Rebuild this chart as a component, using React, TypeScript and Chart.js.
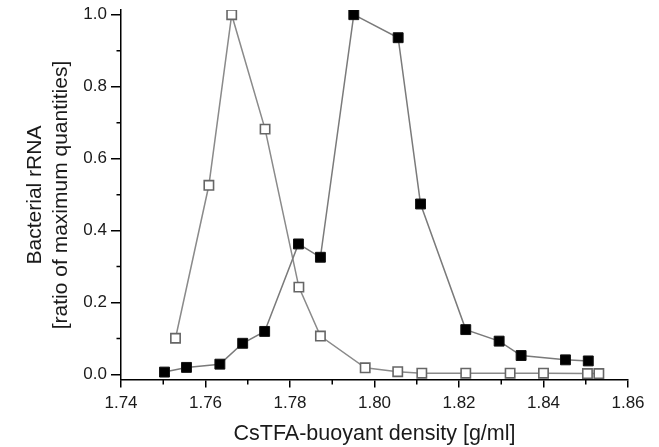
import React, { useEffect, useRef } from "react";
import { Chart, registerables } from "chart.js";

Chart.register(...registerables);

// Open squares
const openX = [1.7529, 1.7608, 1.7662, 1.7741, 1.7821, 1.7872, 1.7978, 1.8055, 1.8112, 1.8216, 1.8321, 1.84, 1.8504, 1.8531];
const openY = [0.101, 0.526, 1.0, 0.682, 0.243, 0.107, 0.019, 0.008, 0.004, 0.004, 0.004, 0.004, 0.003, 0.003];

// Filled squares
const filledX = [1.7503, 1.7555, 1.7634, 1.7688, 1.774, 1.782, 1.7872, 1.7951, 1.8056, 1.8109, 1.8216, 1.8295, 1.8347, 1.8452, 1.8506];
const filledY = [0.007, 0.02, 0.029, 0.087, 0.12, 0.363, 0.326, 1.0, 0.936, 0.474, 0.125, 0.093, 0.053, 0.041, 0.038];

const xMajorTicks = [1.74, 1.76, 1.78, 1.8, 1.82, 1.84, 1.86];
const xMinorTicks = [1.75, 1.77, 1.79, 1.81, 1.83, 1.85];
const yMajorTicks = [0, 0.2, 0.4, 0.6, 0.8, 1.0];
const yMinorTicks = [0.1, 0.3, 0.5, 0.7, 0.9];

const xTitle = "CsTFA-buoyant density [g/ml]";
const yTitle = ["Bacterial rRNA", "[ratio of maximum quantities]"];

const FONT = "'Liberation Sans', Arial, Helvetica, sans-serif";

const minorTicksPlugin = {
  id: "minorTicks",
  afterDraw(chart: any) {
    const ctx = chart.ctx;
    const xs = chart.scales.x;
    const ys = chart.scales.y;
    const area = chart.chartArea;
    ctx.save();
    ctx.strokeStyle = "#000";
    ctx.lineWidth = 1.5;
    ctx.beginPath();
    xMinorTicks.forEach((v) => {
      const px = xs.getPixelForValue(v);
      ctx.moveTo(px, area.bottom);
      ctx.lineTo(px, area.bottom + 4.5);
    });
    yMinorTicks.forEach((v) => {
      const py = ys.getPixelForValue(v);
      ctx.moveTo(area.left, py);
      ctx.lineTo(area.left - 4.5, py);
    });
    ctx.stroke();
    ctx.restore();
  },
};

export default function App() {
  const ref = useRef<HTMLCanvasElement>(null);

  useEffect(() => {
    if (!ref.current) return;
    const chart = new Chart(ref.current, {
      type: "line",
      data: {
        datasets: [
          {
            label: "filled",
            data: filledX.map((x, i) => ({ x, y: filledY[i] })),
            borderColor: "#7a7a7a",
            borderWidth: 1.5,
            backgroundColor: "#000",
            pointStyle: "rect",
            pointRadius: 7,
            pointBorderColor: "#111",
            pointBackgroundColor: "#000",
            pointBorderWidth: 1,
            tension: 0,
          },
          {
            label: "open",
            data: openX.map((x, i) => ({ x, y: openY[i] })),
            borderColor: "#8a8a8a",
            borderWidth: 1.5,
            backgroundColor: "#fff",
            pointStyle: "rect",
            pointRadius: 6.6,
            pointBorderColor: "#666",
            pointBackgroundColor: "#fff",
            pointBorderWidth: 1.6,
            tension: 0,
          },
        ],
      },
      options: {
        animation: false,
        responsive: false,
        events: [],
        layout: { padding: { left: 0, right: 31, top: 10, bottom: 0 } },
        plugins: { legend: { display: false }, tooltip: { enabled: false } },
        scales: {
          x: {
            type: "linear",
            min: 1.74,
            max: 1.86,
            afterBuildTicks: (s: any) => {
              s.ticks = xMajorTicks.map((v) => ({ value: v }));
            },
            afterFit: (s: any) => {
              s.height = 67;
              s.paddingLeft = 0;
              s.paddingRight = 0;
            },
            grid: {
              drawOnChartArea: false,
              drawTicks: true,
              tickLength: 7.5,
              color: "#000",
              lineWidth: 1.5,
            },
            border: { display: true, color: "#000", width: 1.5 },
            ticks: {
              autoSkip: false,
              maxRotation: 0,
              padding: 6,
              color: "#1a1a1a",
              font: { family: FONT, size: 17 },
              callback: (v: any) => Number(v).toFixed(2),
            },
            title: {
              display: true,
              text: xTitle,
              color: "#1a1a1a",
              font: { family: FONT, size: 21.5, lineHeight: 1.2 },
              padding: { top: 0, bottom: 0 },
            },
          },
          y: {
            type: "linear",
            min: -0.015,
            max: 1.013,
            afterBuildTicks: (s: any) => {
              s.ticks = yMajorTicks.map((v) => ({ value: v }));
            },
            afterFit: (s: any) => {
              s.width = 121;
              s.paddingTop = 0;
              s.paddingBottom = 0;
            },
            grid: {
              drawOnChartArea: false,
              drawTicks: true,
              tickLength: 10,
              color: "#000",
              lineWidth: 1.5,
            },
            border: { display: true, color: "#000", width: 1.5 },
            ticks: {
              autoSkip: false,
              padding: 4,
              color: "#1a1a1a",
              font: { family: FONT, size: 17 },
              callback: (v: any) => Number(v).toFixed(1),
            },
            title: {
              display: true,
              text: yTitle,
              color: "#1a1a1a",
              font: { family: FONT, size: 21, lineHeight: 1.24 },
              padding: { top: 22, bottom: 0 },
            },
          },
        },
      },
      plugins: [minorTicksPlugin],
    });
    return () => chart.destroy();
  }, []);

  return (
    <div style={{ position: "fixed", left: 0, top: 0, width: 659, height: 447, background: "#fff" }}>
      <canvas ref={ref} width={659} height={447} style={{ width: 659, height: 447, display: "block" }} />
    </div>
  );
}
